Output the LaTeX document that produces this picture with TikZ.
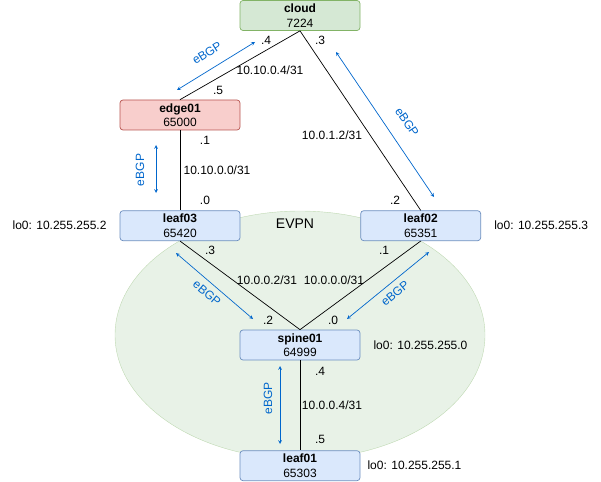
\documentclass[tikz,border=0pt]{standalone}
\usepackage{fontspec}
\setmainfont{Liberation Sans}
\usetikzlibrary{arrows}
\usetikzlibrary{positioning}
\definecolor{cloudfill}{HTML}{D5E8D4}
\definecolor{cloudline}{HTML}{82B366}
\definecolor{edgefill}{HTML}{F8CECC}
\definecolor{edgeline}{HTML}{B85450}
\definecolor{fabricfill}{HTML}{DAE8FC}
\definecolor{fabricline}{HTML}{6C8EBF}
\definecolor{bgpblue}{HTML}{0066CC}
\tikzset {
  router/.style = {
    draw = black,
    rounded corners = 3pt,
    minimum width = 120pt,
    minimum height = 30pt,
    inner sep = 0,
    align = center,
    line width = 0.7pt,
    font = \fontsize{12}{14.5}\selectfont
  },
  % upstream node
  cloudnode/.style = {
    router,
    fill = cloudfill,
    draw = cloudline
  },
  % border router
  edgenode/.style = {
    router,
    fill = edgefill,
    draw = edgeline
  },
  % leaf and spine switches
  fabric/.style = {
    router,
    fill = fabricfill,
    draw = fabricline
  },
  % addresses next to the links
  addr/.style = {
    inner sep = 1pt,
    font = \fontsize{12}{14}\selectfont
  },
  link/.style = {
    draw = black,
    line width = 0.7pt
  },
  % session arrows
  bgp/.style = {
    draw = bgpblue,
    line width = 0.7pt,
    <->,
    >=stealth
  },
  bgptext/.style = {
    addr,
    text = bgpblue
  },
  node distance = 10pt
}
\begin{document}
\begin{tikzpicture}[x=1pt, y=-1pt]
    \useasboundingbox (0,0) rectangle (601,481);
    \draw[fill = cloudfill, fill opacity = 0.55, draw = cloudline, draw opacity = 0.45]
      (300,335) ellipse [x radius = 185pt, y radius = 124pt];
    \node[addr, font = \fontsize{14}{16}\selectfont] (evpn) at (295,224) {EVPN};

    \node[cloudnode] (cloud) at (300,15.5) {\textbf{cloud}\\7224};
    \node[edgenode] (edge01) at (180,115) {\textbf{edge01}\\65000};
    \node[fabric] (leaf03) [below=80pt of edge01] {\textbf{leaf03}\\65420};
    \node[fabric] (leaf02) [right=120pt of leaf03] {\textbf{leaf02}\\65351};
    \node[fabric] (spine01) at (300,345) {\textbf{spine01}\\64999};
    \node[fabric] (leaf01) [below=90pt of spine01] {\textbf{leaf01}\\65303};

    \node[addr] (lo-leaf03) [left=12pt of leaf03] {lo0: 10.255.255.2};
    \node[addr] (lo-leaf02) [right=12pt of leaf02] {lo0: 10.255.255.3};
    \node[addr] (lo-spine01) [right=12pt of spine01] {lo0: 10.255.255.0};
    \node[addr] (lo-leaf01) [right=6pt of leaf01] {lo0: 10.255.255.1};

    \draw[link] (cloud.south) -- (edge01.north);
    \draw[link] (cloud.south) -- (leaf02.north);
    \draw[link] (edge01) -- (leaf03);
    \draw[link] (leaf03.south) -- (spine01.north);
    \draw[link] (leaf02.south) -- (spine01.north);
    \draw[link] (spine01) -- (leaf01);

    % cloud - edge01
    \node[addr] (c-e-a) at (266,40) {.4};
    \node[addr] (c-e-net) at (270,70) {10.10.0.4/31};
    \node[addr] (c-e-b) at (218,90) {.5};
    % cloud - leaf02
    \node[addr] (c-l2-a) at (320,40) {.3};
    \node[addr] (c-l2-net) at (332,135) {10.0.1.2/31};
    \node[addr] (c-l2-b) at (395,200) {.2};
    % edge01 - leaf03
    \node[addr] (e-l3-a) at (205,140) {.1};
    \node[addr] (e-l3-net) at (217,170) {10.10.0.0/31};
    \node[addr] (e-l3-b) at (205,200) {.0};
    % leaves - spine01
    \node[addr] (l3-s-a) at (210,250) {.3};
    \node[addr] (l3-s-net) at (267,280) {10.0.0.2/31};
    \node[addr] (l3-s-b) at (268,320) {.2};
    \node[addr] (l2-s-a) at (384,250) {.1};
    \node[addr] (l2-s-net) at (334,280) {10.0.0.0/31};
    \node[addr] (l2-s-b) at (333,320) {.0};
    % spine01 - leaf01
    \node[addr] (s-l1-a) at (320,371) {.4};
    \node[addr] (s-l1-net) at (332,405) {10.0.0.4/31};
    \node[addr] (s-l1-b) at (320,439) {.5};

    \coordinate (bgp-c-e-a) at (255,42);
    \coordinate (bgp-c-e-b) at (177,90);
    \coordinate (bgp-c-l2-a) at (336,52);
    \coordinate (bgp-c-l2-b) at (434,197);
    \coordinate (bgp-e-l3-a) at (156,145);
    \coordinate (bgp-e-l3-b) at (156,193);
    \coordinate (bgp-l3-s-a) at (176,253);
    \coordinate (bgp-l3-s-b) at (253,319);
    \coordinate (bgp-l2-s-a) at (429,252);
    \coordinate (bgp-l2-s-b) at (347,319);
    \coordinate (bgp-s-l1-a) at (280,366);
    \coordinate (bgp-s-l1-b) at (280,444);

    \draw[bgp] (bgp-c-e-a) -- (bgp-c-e-b);
    \draw[bgp] (bgp-c-l2-a) -- (bgp-c-l2-b);
    \draw[bgp] (bgp-e-l3-a) -- (bgp-e-l3-b);
    \draw[bgp] (bgp-l3-s-a) -- (bgp-l3-s-b);
    \draw[bgp] (bgp-l2-s-a) -- (bgp-l2-s-b);
    \draw[bgp] (bgp-s-l1-a) -- (bgp-s-l1-b);

    \node[bgptext, rotate = 32] (bgp-c-e) at (207,53) {eBGP};
    \node[bgptext, rotate = -56] (bgp-c-l2) at (407,122) {eBGP};
    \node[bgptext, rotate = 90] (bgp-e-l3) at (140,170) {eBGP};
    \node[bgptext, rotate = -40] (bgp-l3-s) at (207,293) {eBGP};
    \node[bgptext, rotate = 40] (bgp-l2-s) at (395,293) {eBGP};
    \node[bgptext, rotate = 90] (bgp-s-l1) at (268,398) {eBGP};
  \end{tikzpicture}
\end{document}
